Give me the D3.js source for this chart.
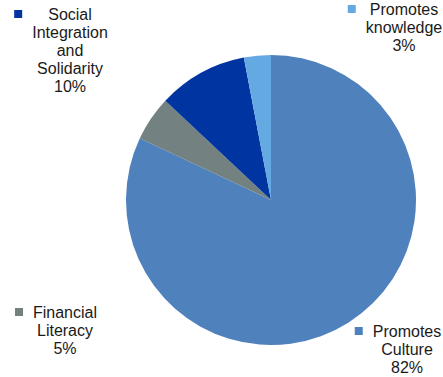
<!DOCTYPE html>
<html>
<head>
<meta charset="utf-8">
<script src="https://cdn.jsdelivr.net/npm/d3@7"></script>
<style>
  html, body { margin: 0; padding: 0; background: #fff; }
  svg { display: block; }
  text { font-family: "Liberation Sans", Arial, sans-serif; font-size: 16px; fill: #1a1a1a; }
</style>
</head>
<body>
<svg id="chart" width="443" height="377"></svg>
<script>
// Share of activities by purpose (%)
const categories = ["Promotes Culture", "Financial Literacy", "Social Integration and Solidarity", "Promotes knowledge"];
const values = [82, 5, 10, 3];
const labelLines = [
  ["Promotes", "Culture"],
  ["Financial", "Literacy"],
  ["Social", "Integration", "and", "Solidarity"],
  ["Promotes", "knowledge"]
];
const colors = ["#4f81bd", "#738180", "#0034a0", "#65a9e3"];

// Label block placement: centre x, first baseline y
const labelLayout = [
  { cx: 407, y: 337 },
  { cx: 65,  y: 318 },
  { cx: 70,  y: 20 },
  { cx: 404, y: 15 }
];

const svg = d3.select("#chart");
const cx = 271, cy = 200, r = 145;
const lineH = 18;

const pie = d3.pie().sort(null).value(d => d)(values);
const arc = d3.arc().innerRadius(0).outerRadius(r);

const g = svg.append("g").attr("transform", `translate(${cx},${cy})`);
g.selectAll("path")
  .data(pie)
  .join("path")
  .attr("d", arc)
  .attr("fill", (d, i) => colors[i]);

const fmt = d3.format(".0f");
labelLayout.forEach((pos, i) => {
  const lines = labelLines[i].concat([fmt(values[i]) + "%"]);
  const t = svg.append("text")
    .attr("text-anchor", "middle");
  lines.forEach((s, k) => {
    t.append("tspan")
      .attr("x", pos.cx)
      .attr("y", pos.y + k * lineH)
      .text(s);
  });
  // legend key square left of the label block
  const maxW = d3.max(t.selectAll("tspan").nodes(), n => n.getComputedTextLength());
  svg.append("rect")
    .attr("x", pos.cx - maxW / 2 - 18)
    .attr("y", pos.y - 10)
    .attr("width", 8)
    .attr("height", 8)
    .attr("fill", colors[i]);
});
</script>
</body>
</html>
